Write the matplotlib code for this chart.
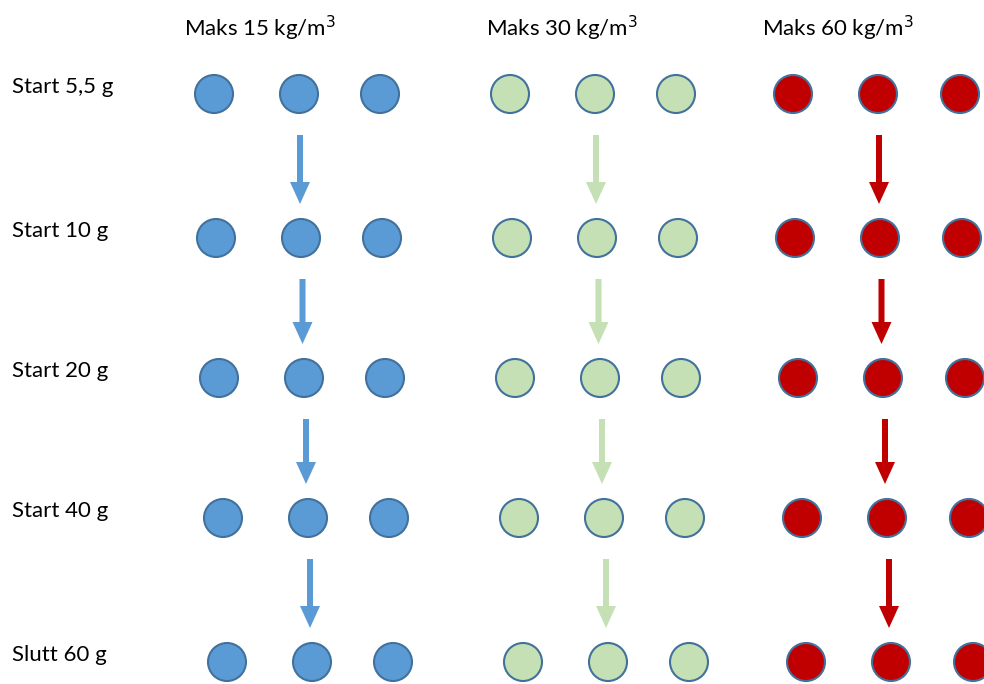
import matplotlib.pyplot as plt
from matplotlib.patches import Circle, FancyArrow

# Rader (startvekt) og kolonner (maks tetthet)
row_labels = ["Start 5,5 g", "Start 10 g", "Start 20 g", "Start 40 g", "Slutt 60 g"]
group_labels = ["Maks 15 kg/m$^3$", "Maks 30 kg/m$^3$", "Maks 60 kg/m$^3$"]
group_colors = ["#5B9BD5", "#C5E0B4", "#C00000"]
n_fish = 3

# plassering (piksler) – radene drifter litt mot høyre nedover
row_y = [94, 238, 378, 518, 662]
row_shift = [0, 2, 5, 9, 13]
group_x = [[214, 299, 380], [510, 595, 676], [793, 878, 960]]
header_x = [260, 562, 838]
arrow_col = 1
edge_color = "#41719C"

fig = plt.figure(figsize=(9.84, 6.84), dpi=100)
ax = fig.add_axes([0, 0, 1, 1])
ax.set_xlim(0, 984)
ax.set_ylim(684, 0)
ax.set_aspect("equal")
ax.axis("off")

plt.rcParams["font.family"] = ["Lato", "DejaVu Sans"]

for g, (label, color) in enumerate(zip(group_labels, group_colors)):
    ax.text(header_x[g], 28, label, ha="center", va="center", fontsize=16)
    for r, y in enumerate(row_y):
        for k in range(n_fish):
            x = group_x[g][k] + row_shift[r]
            ax.add_patch(Circle((x, y), 19, facecolor=color, edgecolor=edge_color, lw=1.5))
        if r < len(row_y) - 1:
            ax_x = group_x[g][arrow_col] + (row_shift[r] + row_shift[r + 1]) / 2
            y0 = y + 41
            y1 = row_y[r + 1] - 34
            ax.add_patch(FancyArrow(ax_x, y0, 0, y1 - y0, width=6, head_width=20,
                                    head_length=22, length_includes_head=True,
                                    color=color, lw=0))

for r, (label, y) in enumerate(zip(row_labels, row_y)):
    ax.text(12, y - 7, label, ha="left", va="center", fontsize=16)

fig.savefig("out.png", dpi=100)
